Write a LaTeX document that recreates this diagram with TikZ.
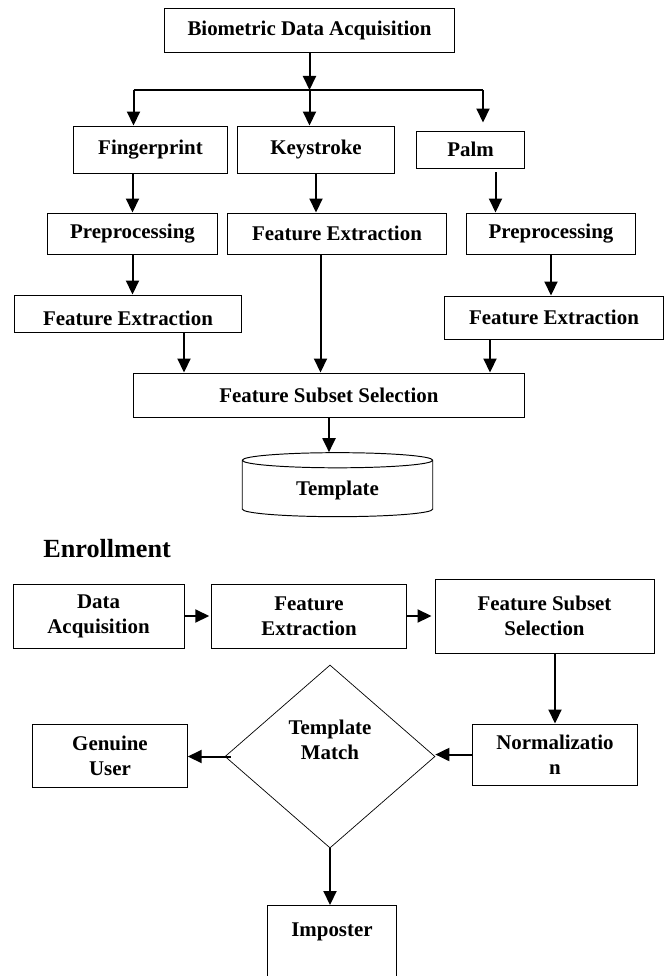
\documentclass[tikz,border=0pt]{standalone}
\usepackage{fontspec}
\setmainfont{Liberation Serif}
\usetikzlibrary{
    arrows.meta,
    positioning,
    calc,
    shapes.geometric
}
\tikzset{
    stage/.style={
        draw,
        line width=0.55pt,
        inner sep=1pt,
        align=center
    }
}
\tikzset{
    decision/.style={
        draw,
        diamond,
        line width=0.4pt,
        inner sep=0pt,
        minimum width=42mm,
        minimum height=36.6mm
    }
}
\tikzset{
    store/.style={
        draw,
        cylinder,
        shape border rotate=90,
        aspect=0.16,
        line width=0.55pt,
        align=center
    }
}
\tikzset{
    flow/.style={
        draw,
        line width=0.4mm,
        -{Triangle[width=2.6mm,length=2.8mm]}
    }
}
\tikzset{
    wire/.style={
        draw,
        line width=0.4mm
    }
}
\tikzset{
    heading/.style={
        inner sep=0pt,
        font=\fontsize{14.9}{17}\selectfont\bfseries
    }
}

\begin{document}
\begin{tikzpicture}[
    font=\fontsize{11.9}{14.2}\selectfont\bfseries
]

\useasboundingbox (0,0) rectangle (134mm,-195.2mm);

% ------------------------------------------------------------
% Enrollment: acquisition and branches
% ------------------------------------------------------------

\node[stage, minimum width=58mm, minimum height=8.8mm] (bda) at (61.9mm,-6mm) {Biometric Data Acquisition};
\coordinate (brL) at (26.7mm,-18mm);
\coordinate (brR) at (96.6mm,-18mm);

\node[stage, minimum width=30.7mm, minimum height=9.4mm] (fp) at (30.1mm,-29.9mm) {Fingerprint};
\node[stage, minimum width=31.5mm, minimum height=9.4mm] (ks) at (63.2mm,-29.9mm) {Keystroke};
\node[stage, minimum width=21.5mm, minimum height=7.4mm] (palm) at (94.1mm,-29.9mm) {Palm};

\draw[flow] (bda.south) -- (bda.south |- brL);
\draw[wire] (brL) -- (brR);
\draw[flow] (brL) -- (brL |- fp.north);
\draw[flow] (bda.south |- brL) -- (bda.south |- ks.north);
\draw[flow] (brR) -- ([yshift=1.6mm]brR |- palm.north);

% ------------------------------------------------------------
% Enrollment: per-modality processing
% ------------------------------------------------------------

\node[stage, minimum width=34.1mm, minimum height=8.2mm] (pre1) at (26.5mm,-46.7mm) {Preprocessing};
\node[stage, minimum width=43.8mm, minimum height=8.2mm] (fe2) at (67.4mm,-46.7mm) {Feature Extraction};
\node[stage, minimum width=33.8mm, minimum height=8.2mm] (pre3) at (110.2mm,-46.7mm) {Preprocessing};
\node[stage, minimum width=45.3mm, minimum height=7.4mm, text height=4.8mm] (fe1) at (25.6mm,-62.7mm) {Feature Extraction};
\node[stage, minimum width=43.9mm, minimum height=8.6mm] (fe3) at (110.8mm,-63.5mm) {Feature Extraction};

\draw[flow] (pre1.north |- fp.south) -- (pre1.north);
\draw[flow] (ks) -- (ks |- fe2.north);
\draw[flow] ([xshift=5mm, yshift=-0.8mm]palm.south) -- ([xshift=5mm]palm.south |- pre3.north);
\draw[flow] (pre1) -- (pre1 |- fe1.north);
\draw[flow] (pre3) -- (pre3 |- fe3.north);

% ------------------------------------------------------------
% Enrollment: subset selection and template
% ------------------------------------------------------------

\node[stage, minimum width=78.2mm, minimum height=8.8mm] (fss) at (65.8mm,-79mm) {Feature Subset Selection};
\node[store, minimum width=38.1mm, minimum height=12.8mm] (tpl) at (67.5mm,-98mm) {Template};

\draw[flow] ([xshift=11.2mm]fe1.south) -- ([xshift=11.2mm]fe1.south |- fss.north);
\draw[flow] ([xshift=-3.3mm]fe2.south) -- ([xshift=-3.3mm]fe2.south |- fss.north);
\draw[flow] ([xshift=-12.8mm]fe3.south) -- ([xshift=-12.8mm]fe3.south |- fss.north);
\draw[flow] (fss.south) -- (fss.south |- tpl.north);

\node[heading, anchor=base west] (enroll) at (8.6mm,-111.4mm) {Enrollment};

% ------------------------------------------------------------
% Verification
% ------------------------------------------------------------

\node[stage, minimum width=34.2mm, minimum height=12.8mm] (da) at (19.7mm,-123.2mm) {Data\\Acquisition};
\node[stage, minimum width=38.9mm, minimum height=12.8mm] (fe) at (61.8mm,-123.2mm) {Feature\\Extraction};
\node[stage, minimum width=43.8mm, minimum height=14.8mm] (fssv) at (108.9mm,-123.2mm) {Feature Subset\\Selection};
\node[stage, minimum width=33.1mm, minimum height=12.2mm] (norm) at (111mm,-150.9mm) {Normalizatio\\n};
\node[decision] (tm) at (66mm,-151.3mm) {};
\node[align=center] (tmtext) at (66mm,-148mm) {Template\\Match};
\node[stage, minimum width=30.9mm, minimum height=12.6mm] (gu) at (22mm,-151.1mm) {Genuine\\User};
\node[stage, minimum width=25.9mm, text height=6.2mm, text depth=9.8mm, inner ysep=0pt, anchor=north] (imp) at (66.4mm,-181mm) {Imposter};

\draw[flow, shorten >=0.4mm] (da) -- (fe);
\draw[flow, shorten >=0.6mm] (fe) -- (fssv);
\draw[flow] (norm |- fssv.south) -- (norm);
\draw[flow] (norm.west) -- (norm.west -| tm.east);
\draw[flow] ([xshift=1.2mm]tm.west) -- (tm.west -| gu.east);
\draw[flow] (tm.south) -- (tm.south |- imp.north);

\end{tikzpicture}
\end{document}
